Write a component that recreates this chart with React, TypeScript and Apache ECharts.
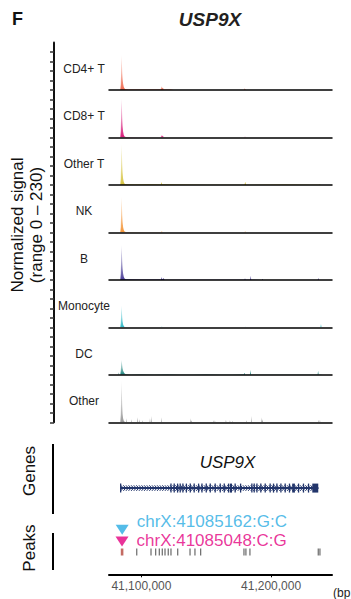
import { useEffect, useRef } from "react";
import * as echarts from "echarts";

// ---------------- data ----------------
const X_MIN = 41075000;
const X_MAX = 41247000;
const SIGNAL_MAX = 230;

const trackNames = ["CD4+ T", "CD8+ T", "Other T", "NK", "B", "Monocyte", "DC", "Other"];

const cd4Signal: [number, number][] = [
  [41075000, 0], [41083700, 0], [41084100, 25], [41084400, 110], [41084650, 170], [41084900, 140],
  [41085200, 85], [41085500, 55], [41085900, 30], [41086400, 15], [41087000, 7], [41087800, 4],
  [41090000, 2], [41100000, 3], [41110000, 2], [41114900, 2], [41115300, 18], [41115700, 5],
  [41116600, 12], [41117100, 2], [41122000, 2], [41125000, 0], [41179300, 0], [41179800, 9],
  [41180300, 0], [41247000, 0],
];
const cd8Signal: [number, number][] = [
  [41075000, 0], [41083700, 0], [41084100, 30], [41084400, 130], [41084650, 190], [41084900, 160],
  [41085200, 95], [41085500, 55], [41085900, 28], [41086400, 12], [41087000, 5], [41088000, 2],
  [41095000, 1], [41114900, 0], [41115300, 12], [41115700, 2], [41116600, 9], [41117100, 0],
  [41179500, 0], [41179900, 5], [41180300, 0], [41247000, 0],
];
const otherTSignal: [number, number][] = [
  [41075000, 0], [41083700, 0], [41084100, 30], [41084400, 140], [41084650, 200], [41084900, 165],
  [41085200, 100], [41085500, 60], [41085900, 30], [41086400, 14], [41087000, 6], [41088000, 3],
  [41095000, 2], [41105000, 3], [41114900, 2], [41115400, 14], [41115900, 3], [41130000, 2],
  [41150000, 1], [41179500, 1], [41180100, 16], [41180700, 1], [41210000, 2], [41230000, 1],
  [41237300, 1], [41237700, 4], [41238100, 0], [41247000, 0],
];
const nkSignal: [number, number][] = [
  [41075000, 0], [41083700, 0], [41084100, 25], [41084400, 115], [41084650, 175], [41084900, 145],
  [41085200, 85], [41085500, 50], [41085900, 25], [41086400, 12], [41087000, 5], [41088000, 2],
  [41098000, 1], [41115400, 1], [41115800, 7], [41116200, 0], [41179500, 0], [41180000, 6],
  [41180500, 0], [41247000, 0],
];
const bSignal: [number, number][] = [
  [41075000, 0], [41083700, 0], [41084100, 30], [41084400, 120], [41084650, 170], [41084900, 140],
  [41085200, 90], [41085500, 55], [41085900, 30], [41086400, 15], [41087000, 7], [41088000, 3],
  [41100000, 2], [41110000, 2], [41115100, 2], [41115500, 14], [41115900, 3], [41117300, 8],
  [41117800, 1], [41125000, 1], [41179500, 1], [41179900, 8], [41180300, 1], [41183900, 1],
  [41184300, 20], [41184700, 1], [41193000, 0], [41193400, 5], [41193800, 0], [41236000, 0],
  [41236400, 10], [41236800, 0], [41247000, 0],
];
const monoSignal: [number, number][] = [
  [41075000, 0], [41083700, 0], [41084100, 20], [41084400, 75], [41084650, 107], [41084900, 85],
  [41085200, 50], [41085500, 28], [41085900, 14], [41086400, 6], [41087000, 2], [41088000, 0],
  [41115400, 0], [41115800, 4], [41116200, 0], [41179600, 0], [41180000, 3], [41180400, 0],
  [41238100, 0], [41238500, 16], [41238900, 0], [41247000, 0],
];
const dcSignal: [number, number][] = [
  [41075000, 0], [41082300, 0], [41082600, 12], [41082900, 0], [41083700, 0], [41084100, 20],
  [41084400, 55], [41084650, 73], [41084900, 62], [41085200, 45], [41085500, 32], [41085900, 20],
  [41086400, 12], [41087000, 6], [41088000, 3], [41092000, 2], [41100000, 3], [41110000, 2],
  [41120000, 3], [41130000, 2], [41140000, 2], [41150000, 3], [41160000, 2], [41170000, 2],
  [41179000, 3], [41179500, 10], [41180000, 2], [41183700, 2], [41184100, 25], [41184500, 2],
  [41195000, 2], [41210000, 2], [41225000, 2], [41235900, 2], [41236300, 20], [41236700, 2],
  [41238000, 2], [41240000, 0], [41247000, 0],
];
const otherSignal: [number, number][] = [
  [41075000, 0], [41083700, 0], [41084100, 35], [41084400, 145], [41084650, 205], [41084900, 150],
  [41085200, 80], [41085500, 40], [41085900, 18], [41086400, 8], [41087000, 3], [41088300, 0],
  [41088600, 20], [41088900, 0], [41092200, 0], [41092500, 15], [41092800, 0], [41096800, 0],
  [41097100, 25], [41097500, 0], [41098100, 0], [41098400, 15], [41098700, 0], [41100700, 0],
  [41101000, 10], [41101300, 0], [41106300, 0], [41106600, 20], [41106900, 0], [41107600, 0],
  [41107900, 30], [41108200, 0], [41115300, 0], [41115600, 25], [41115900, 0], [41137700, 0],
  [41138000, 20], [41138300, 0], [41138500, 0], [41138800, 10], [41139100, 0], [41155100, 0],
  [41155400, 10], [41155700, 0], [41156400, 0], [41156700, 10], [41157000, 0], [41164900, 0],
  [41165200, 12], [41165500, 0], [41168000, 0], [41168300, 10], [41168600, 0], [41169800, 0],
  [41170100, 8], [41170400, 0], [41180900, 0], [41181200, 10], [41181500, 0], [41184700, 0],
  [41185000, 30], [41185300, 0], [41192400, 0], [41192700, 25], [41193000, 0], [41193200, 0],
  [41193500, 15], [41193800, 0], [41236100, 0], [41236400, 12], [41236700, 0], [41237400, 0],
  [41237700, 12], [41238000, 0], [41247000, 0],
];
const signals = [cd4Signal, cd8Signal, otherTSignal, nkSignal, bSignal, monoSignal, dcSignal, otherSignal];

const yTickValues = [0, 46, 92, 138, 184];
const xTickValues = [41100000, 41200000];

const geneName = "USP9X";
const geneSpan: [number, number] = [41083500, 41236400];
const geneExons: [number, number][] = [
  [41083500, 41084100], [41122300, 41122900], [41124800, 41125400], [41127400, 41128000],
  [41129400, 41130000], [41131500, 41132100], [41134200, 41134700], [41137200, 41137800],
  [41140200, 41140800], [41143600, 41144200], [41146200, 41146800], [41149500, 41150100],
  [41152600, 41153200], [41156400, 41157000], [41160300, 41160900], [41163400, 41164000],
  [41166700, 41167300], [41168200, 41169900], [41171800, 41172400], [41176000, 41176500],
  [41184700, 41185300], [41186500, 41187100], [41188600, 41189200], [41191600, 41192200],
  [41195000, 41195600], [41198800, 41199400], [41201400, 41202000], [41204000, 41204600],
  [41207100, 41207700], [41210400, 41211000], [41213700, 41214300], [41216300, 41218400],
  [41220700, 41221300], [41224500, 41225100], [41228400, 41229000], [41231800, 41236400],
];

const peakPositions = [
  41096400, 41107400, 41111000, 41113800, 41116100, 41118200, 41120700, 41122800,
  41128000, 41137500, 41141300, 41145700, 41179100, 41180600, 41183700, 41236400, 41237700,
];
const highlightedPeaks = [41085100];

const snvNames = ["chrX:41085162:G:C", "chrX:41085048:C:G"];
const snvPositions = [41085162, 41085048];

// ---------------- styles / layout ----------------
const trackColors = ["#ef6a50", "#d81b7a", "#d6c33f", "#f39436", "#4b3e98", "#2fb8c6", "#17807a", "#9a9a9a"];
const snvColors = ["#29abe2", "#e4007f"];
const snvLevels = [33.1, 24.4];
const snvLabelDy = [-8.5, -1.5];
const GENE_LEVEL = 64.2;
const PEAK_LEVEL = 16.6;
const GENE_COLOR = "#22356b";
const FONT = "Liberation Sans, Arial, Helvetica, sans-serif";

const PLOT_LEFT = 109;
const PLOT_W = 223;
const FIRST_BASE = 90;
const TRACK_H = 47.47;
const AXIS_X = 54;

function rgba(hex: string, a: number) {
  const n = parseInt(hex.slice(1), 16);
  return `rgba(${(n >> 16) & 255},${(n >> 8) & 255},${n & 255},${a})`;
}

export default function App() {
  const ref = useRef<HTMLDivElement>(null);
  useEffect(() => {
    if (!ref.current) return;
    const chart = echarts.init(ref.current, undefined, { renderer: "svg" });

    const nT = trackNames.length;
    const grids: any[] = [];
    const xAxes: any[] = [];
    const yAxes: any[] = [];
    const series: any[] = [];
    const graphics: any[] = [];

    for (let i = 0; i < nT; i++) {
      const top = FIRST_BASE - TRACK_H + i * TRACK_H;
      grids.push({ left: PLOT_LEFT, width: PLOT_W, top, height: TRACK_H });
      xAxes.push({
        type: "value", gridIndex: i, min: X_MIN, max: X_MAX, z: 5,
        axisLine: { show: true, onZero: false, lineStyle: { color: "#000", width: 1.5 } },
        axisTick: { show: false }, axisLabel: { show: false }, splitLine: { show: false },
      });
      yAxes.push({
        type: "value", gridIndex: i, min: 0, max: SIGNAL_MAX, offset: PLOT_LEFT - AXIS_X,
        axisLine: { show: true, lineStyle: { color: "#111", width: 2 } },
        axisTick: { show: true, customValues: yTickValues, length: 4, lineStyle: { color: "#333", width: 1.5 } },
        axisLabel: { show: false }, splitLine: { show: false },
      });
      const c = trackColors[i];
      series.push({
        type: "line", xAxisIndex: i, yAxisIndex: i, data: signals[i], symbol: "none", silent: true, z: 1,
        lineStyle: { width: 0, opacity: 0 },
        areaStyle: {
          opacity: 1,
          color: new echarts.graphic.LinearGradient(0, 0, 0, 1, [
            { offset: 0, color: rgba(c, 0.12) },
            { offset: 0.55, color: rgba(c, 0.5) },
            { offset: 1, color: c },
          ]),
        },
      });
      graphics.push({
        type: "text", x: 84, y: FIRST_BASE + i * TRACK_H - 21,
        style: { text: trackNames[i], fill: "#222", fontSize: 12, fontFamily: FONT, textAlign: "center", textVerticalAlign: "middle" },
      });
    }

    // bottom grid: genes + peaks + coordinate axis
    const bi = nT;
    grids.push({ left: PLOT_LEFT, width: PLOT_W, top: 440, height: 134.3 });
    xAxes.push({
      type: "value", gridIndex: bi, min: X_MIN, max: X_MAX,
      axisLine: { show: true, onZero: false, lineStyle: { color: "#000", width: 2 } },
      axisTick: { show: true, customValues: xTickValues, length: 3, lineStyle: { color: "#000", width: 1 } },
      axisLabel: {
        show: true, customValues: xTickValues, color: "#555", fontSize: 12, margin: 6, fontFamily: FONT,
        formatter: (v: number) => Math.round(v).toLocaleString("en-US"),
      },
      splitLine: { show: false },
    });
    yAxes.push({ type: "value", gridIndex: bi, min: 0, max: 100, show: false });

    series.push({
      type: "custom", xAxisIndex: bi, yAxisIndex: bi, silent: true,
      data: [[geneSpan[0], geneSpan[1], GENE_LEVEL]],
      encode: { x: [0, 1], y: 2 },
      renderItem: (_p: any, api: any) => {
        const a = api.coord([api.value(0), api.value(2)]);
        const b = api.coord([api.value(1), api.value(2)]);
        const y = a[1];
        const children: any[] = [
          { type: "line", shape: { x1: a[0], y1: y, x2: b[0], y2: y }, style: { stroke: GENE_COLOR, lineWidth: 2 } },
        ];
        for (let x = a[0] + 2; x < b[0] - 1; x += 2.6) {
          children.push({
            type: "polyline",
            shape: { points: [[x - 1.3, y - 2.8], [x + 1.2, y], [x - 1.3, y + 2.8]] },
            style: { stroke: GENE_COLOR, lineWidth: 1, fill: null },
          });
        }
        for (const [s, e] of geneExons) {
          const xs = api.coord([s, api.value(2)])[0];
          const xe = api.coord([e, api.value(2)])[0];
          children.push({
            type: "rect",
            shape: { x: xs, y: y - 4.5, width: Math.max(xe - xs, 1.3), height: 9 },
            style: { fill: GENE_COLOR },
          });
        }
        return { type: "group", children };
      },
    });

    series.push({
      type: "scatter", xAxisIndex: bi, yAxisIndex: bi, silent: true,
      symbol: "rect", symbolSize: [1.2, 7],
      itemStyle: { color: "#444" },
      data: peakPositions.map((p) => [p, PEAK_LEVEL]),
    });
    series.push({
      type: "scatter", xAxisIndex: bi, yAxisIndex: bi, silent: true,
      symbol: "rect", symbolSize: [2.6, 7],
      itemStyle: { color: "#b5463c" },
      data: highlightedPeaks.map((p) => [p, PEAK_LEVEL]),
    });
    series.push({
      type: "scatter", xAxisIndex: bi, yAxisIndex: bi, silent: true,
      symbol: "triangle", symbolRotate: 180, symbolSize: [13, 10],
      label: { show: true, position: "right", distance: 8, formatter: "{b}", fontSize: 17, fontFamily: FONT },
      data: snvNames.map((n, i) => ({
        name: n,
        value: [snvPositions[i], snvLevels[i]],
        itemStyle: { color: snvColors[i] },
        label: { color: snvColors[i], offset: [0, snvLabelDy[i]] },
      })),
    });

    // texts and decorations
    graphics.push(
      { type: "text", x: 12, y: 19, style: { text: "F", fill: "#111", fontSize: 18, fontWeight: "bold", fontFamily: FONT, textAlign: "left", textVerticalAlign: "middle" } },
      { type: "text", x: 210, y: 19.5, style: { text: geneName, fill: "#231f20", fontSize: 19, fontWeight: "bold", fontStyle: "italic", fontFamily: FONT, textAlign: "center", textVerticalAlign: "middle" } },
      { type: "text", x: 17.5, y: 225, rotation: Math.PI / 2, style: { text: "Normalized signal", fill: "#111", fontSize: 17, fontFamily: FONT, textAlign: "center", textVerticalAlign: "middle" } },
      { type: "text", x: 36, y: 225, rotation: Math.PI / 2, style: { text: "(range 0 \u2013 230)", fill: "#111", fontSize: 17, fontFamily: FONT, textAlign: "center", textVerticalAlign: "middle" } },
      { type: "text", x: 29, y: 471, rotation: Math.PI / 2, style: { text: "Genes", fill: "#111", fontSize: 17, fontFamily: FONT, textAlign: "center", textVerticalAlign: "middle" } },
      { type: "text", x: 29, y: 548, rotation: Math.PI / 2, style: { text: "Peaks", fill: "#111", fontSize: 17, fontFamily: FONT, textAlign: "center", textVerticalAlign: "middle" } },
      { type: "line", shape: { x1: 53, y1: 444, x2: 53, y2: 514 }, style: { stroke: "#000", lineWidth: 2 } },
      { type: "line", shape: { x1: 53, y1: 533, x2: 53, y2: 570 }, style: { stroke: "#000", lineWidth: 2 } },
      { type: "text", x: 227.5, y: 462, style: { text: geneName, fill: "#111", fontSize: 17, fontStyle: "italic", fontFamily: FONT, textAlign: "center", textVerticalAlign: "middle" } },
      { type: "text", x: 333, y: 593, style: { text: "(bp", fill: "#222", fontSize: 12, fontFamily: FONT, textAlign: "left", textVerticalAlign: "middle" } },
    );

    chart.setOption({
      animation: false,
      textStyle: { fontFamily: FONT },
      grid: grids,
      xAxis: xAxes,
      yAxis: yAxes,
      series,
      graphic: graphics,
    });
    return () => chart.dispose();
  }, []);

  return <div ref={ref} style={{ position: "fixed", left: 0, top: 0, width: 351, height: 599, background: "#fff" }} />;
}
